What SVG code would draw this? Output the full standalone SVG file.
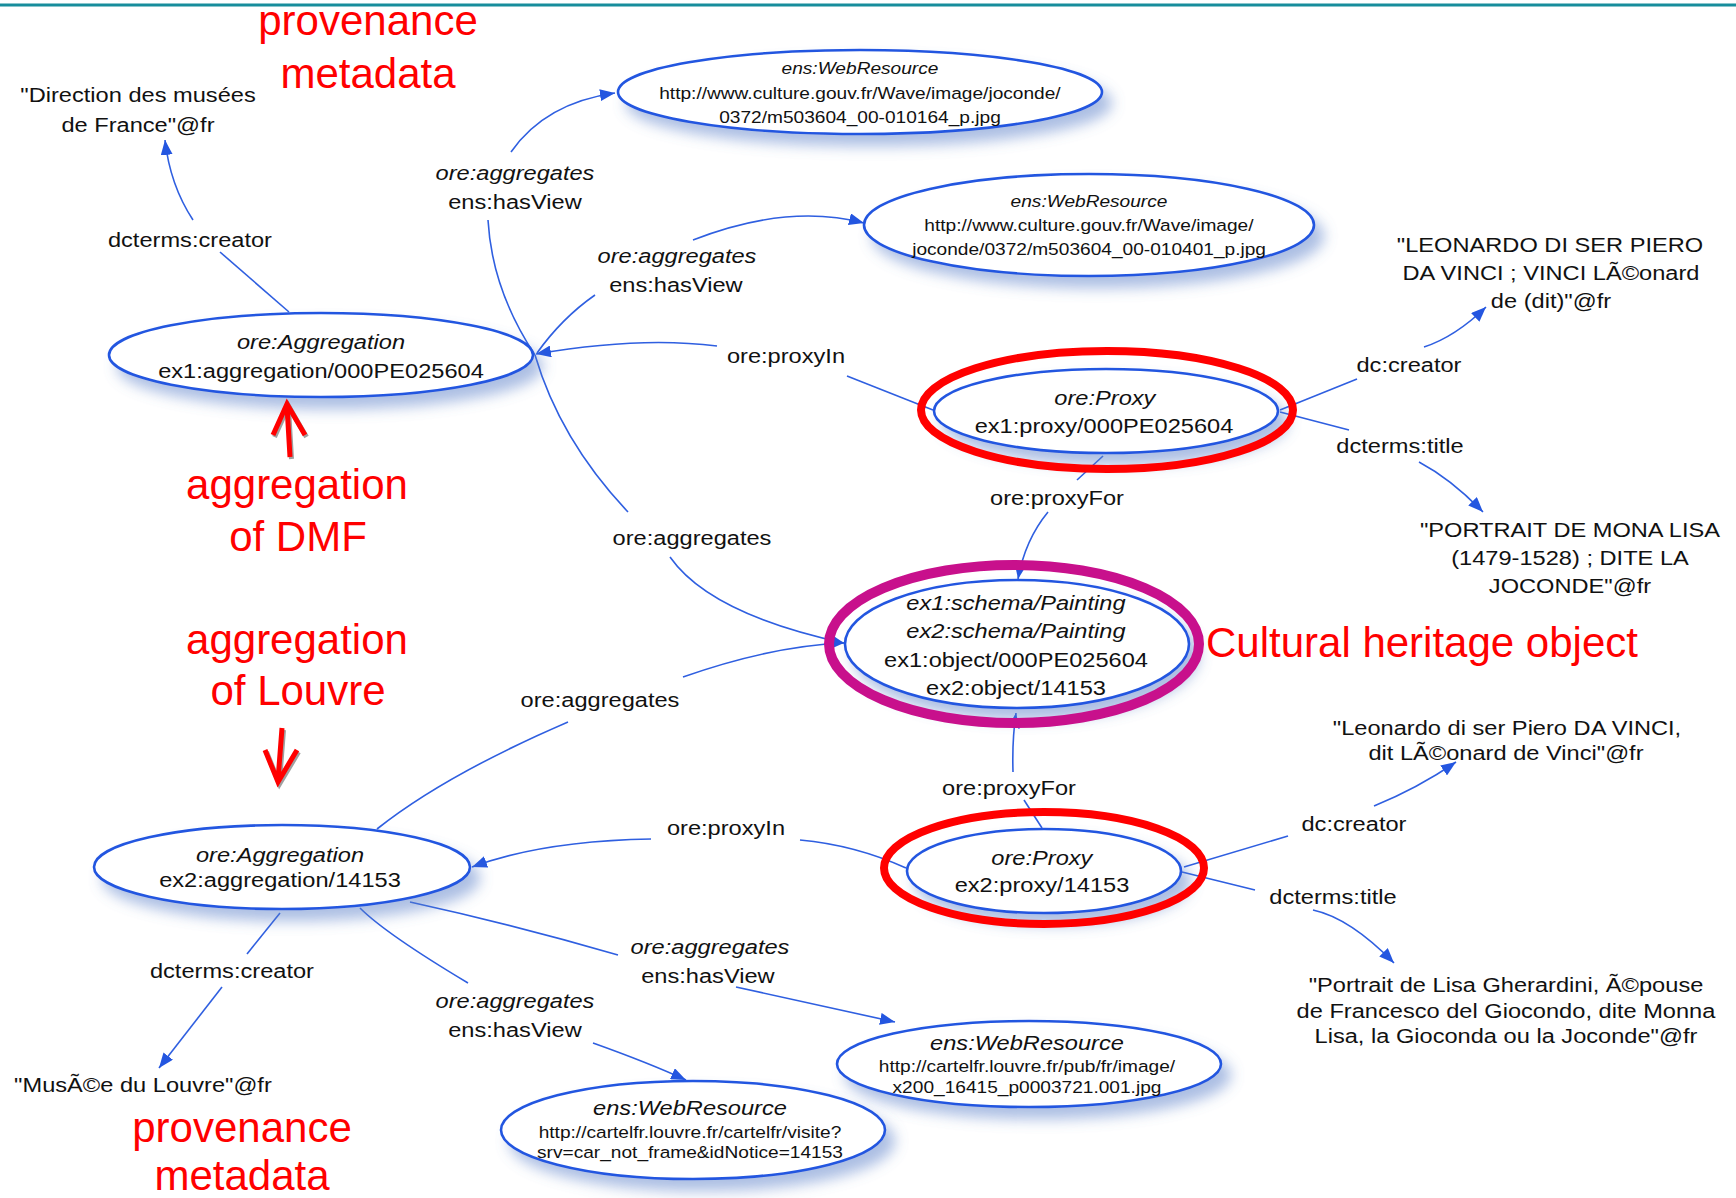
<svg xmlns="http://www.w3.org/2000/svg" width="1736" height="1198" viewBox="0 0 1736 1198">
<style>
text { font-family: "Liberation Sans", Arial, Helvetica, sans-serif; fill: #111; }
.t { font-size: 21px; text-anchor: middle; transform-box: fill-box; transform-origin: center; transform: scaleX(1.125); }
.s { font-size: 17px; text-anchor: middle; transform-box: fill-box; transform-origin: center; transform: scaleX(1.125); }
.i { font-style: italic; }
.node { fill: #fff; stroke: #2456e0; stroke-width: 2.6; filter: url(#sh); }
.edge { fill: none; stroke: #2f5fe0; stroke-width: 1.6; }
.arr { marker-end: url(#ah); }
.red { font-size: 42px; fill: #ff0000; text-anchor: middle; }
.hl { fill: none; stroke: #ff0000; stroke-width: 8; }
.ra { fill: none; stroke: #ff0000; stroke-width: 5; stroke-linecap: butt; stroke-linejoin: miter; }
.rs { fill: none; stroke: #777; stroke-width: 5; opacity: 0.7; }
</style>
<defs>
<filter id="sh" x="-20%" y="-40%" width="150%" height="190%">
<feGaussianBlur in="SourceAlpha" stdDeviation="7"/>
<feOffset dx="9" dy="11" result="b"/>
<feFlood flood-color="#5a7fc8" flood-opacity="0.5"/>
<feComposite in2="b" operator="in"/>
<feMerge><feMergeNode/><feMergeNode in="SourceGraphic"/></feMerge>
</filter>
<marker id="ah" viewBox="0 0 15 12" refX="15" refY="6" markerWidth="15" markerHeight="12" markerUnits="userSpaceOnUse" orient="auto">
<path d="M0,0 L15,6 L0,12 z" fill="#2456e0"/>
</marker>
</defs>
<rect x="0" y="0" width="1736" height="1198" fill="#ffffff"/>
<line x1="0" y1="5" x2="1736" y2="5" stroke="#178d9c" stroke-width="3"/>

<g id="connectors">
<!-- A1 -> Direction des musées -->
<path class="edge" d="M289,312 L220,252"/>
<path class="edge arr" d="M193,220 Q170,185 165,140"/>
<text class="t" x="190" y="247">dcterms:creator</text>
<!-- A1 -> WR1 -->
<path class="edge" d="M535,355 Q492,290 488,220"/>
<path class="edge arr" d="M511,152 Q545,103 615,93"/>
<text class="t i" x="515" y="180">ore:aggregates</text>
<text class="t" x="515" y="209">ens:hasView</text>
<!-- A1 -> WR2 -->
<path class="edge" d="M537,353 Q562,318 595,295"/>
<path class="edge arr" d="M693,240 Q788,203 864,223"/>
<text class="t i" x="677" y="263">ore:aggregates</text>
<text class="t" x="676" y="292">ens:hasView</text>
<!-- Proxy1 -> A1 -->
<path class="edge" d="M933,410 L847,376"/>
<path class="edge arr" d="M717,346 Q640,336 536,354"/>
<text class="t" x="786" y="363">ore:proxyIn</text>
<!-- A1 -> CHO -->
<path class="edge" d="M535,355 Q560,440 628,512"/>
<path class="edge arr" d="M670,557 Q710,614 844,643"/>
<text class="t" x="692" y="545">ore:aggregates</text>
<!-- Proxy1 -> CHO -->
<path class="edge" d="M1103,456 L1077,480"/>
<path class="edge arr" d="M1048,512 Q1025,540 1018,579"/>
<text class="t" x="1057" y="505">ore:proxyFor</text>
<!-- Proxy1 -> LEONARDO -->
<path class="edge" d="M1280,410 L1357,379"/>
<path class="edge arr" d="M1424,347 Q1455,337 1486,307"/>
<text class="t" x="1409" y="372">dc:creator</text>
<!-- Proxy1 -> PORTRAIT -->
<path class="edge" d="M1280,412 L1349,430"/>
<path class="edge arr" d="M1419,462 Q1451,479 1483,512"/>
<text class="t" x="1400" y="453">dcterms:title</text>
<!-- A2 -> CHO -->
<path class="edge" d="M377,829 Q445,775 568,722"/>
<path class="edge arr" d="M683,677 Q771,646 844,643"/>
<text class="t" x="600" y="707">ore:aggregates</text>
<!-- Proxy2 -> CHO -->
<path class="edge arr" d="M1013,772 Q1012,740 1016,713"/>
<path class="edge" d="M1024,800 L1042,828"/>
<text class="t" x="1009" y="795">ore:proxyFor</text>
<!-- Proxy2 -> A2 -->
<path class="edge" d="M906,868 Q855,845 800,840"/>
<path class="edge arr" d="M651,839 Q542,841 472,867"/>
<text class="t" x="726" y="835">ore:proxyIn</text>
<!-- Proxy2 -> Leonardo -->
<path class="edge" d="M1184,867 L1288,836"/>
<path class="edge arr" d="M1374,806 Q1418,788 1456,762"/>
<text class="t" x="1354" y="831">dc:creator</text>
<!-- Proxy2 -> Portrait de Lisa -->
<path class="edge" d="M1182,872 L1255,890"/>
<path class="edge arr" d="M1313,910 Q1350,918 1394,963"/>
<text class="t" x="1333" y="904">dcterms:title</text>
<!-- A2 -> Musée du Louvre -->
<path class="edge" d="M280,913 L247,954"/>
<path class="edge arr" d="M222,987 L159,1068"/>
<text class="t" x="232" y="978">dcterms:creator</text>
<!-- A2 -> WR4 -->
<path class="edge" d="M360,908 Q386,934 468,983"/>
<path class="edge arr" d="M593,1043 Q649,1063 686,1080"/>
<text class="t i" x="515" y="1008">ore:aggregates</text>
<text class="t" x="515" y="1037">ens:hasView</text>
<!-- A2 -> WR3 -->
<path class="edge" d="M410,902 Q515,925 618,955"/>
<path class="edge arr" d="M736,987 L895,1022"/>
<text class="t i" x="710" y="954">ore:aggregates</text>
<text class="t" x="708" y="983">ens:hasView</text>
</g>

<g id="n-direction">
<text class="t" x="138" y="102">"Direction des musées</text>
<text class="t" x="138" y="132">de France"@fr</text>
</g>

<g id="n-aggregation1">
<ellipse class="node" cx="321" cy="355" rx="212" ry="42"/>
<text class="t i" x="321" y="349">ore:Aggregation</text>
<text class="t" x="321" y="378">ex1:aggregation/000PE025604</text>
</g>

<g id="n-webresource1">
<ellipse class="node" cx="860" cy="92" rx="242" ry="42"/>
<text class="s i" x="860" y="74">ens:WebResource</text>
<text class="s" x="860" y="99">http://www.culture.gouv.fr/Wave/image/joconde/</text>
<text class="s" x="860" y="123">0372/m503604_00-010164_p.jpg</text>
</g>

<g id="n-webresource2">
<ellipse class="node" cx="1089" cy="225" rx="225" ry="51"/>
<text class="s i" x="1089" y="207">ens:WebResource</text>
<text class="s" x="1089" y="231">http://www.culture.gouv.fr/Wave/image/</text>
<text class="s" x="1089" y="255">joconde/0372/m503604_00-010401_p.jpg</text>
</g>

<g id="n-proxy1">
<ellipse class="node" cx="1106" cy="411" rx="172" ry="42"/>
<text class="t i" x="1105" y="405">ore:Proxy</text>
<text class="t" x="1104" y="433">ex1:proxy/000PE025604</text>
</g>

<g id="n-leonardo-upper">
<text class="t" x="1550" y="252">"LEONARDO DI SER PIERO</text>
<text class="t" x="1551" y="280">DA VINCI ; VINCI LÃ©onard</text>
<text class="t" x="1551" y="308">de (dit)"@fr</text>
</g>

<g id="n-portrait-upper">
<text class="t" x="1570" y="537">"PORTRAIT DE MONA LISA</text>
<text class="t" x="1570" y="565">(1479-1528) ; DITE LA</text>
<text class="t" x="1570" y="593">JOCONDE"@fr</text>
</g>

<g id="n-cho">
<ellipse class="node" cx="1017" cy="644" rx="172" ry="64"/>
<text class="t i" x="1016" y="610">ex1:schema/Painting</text>
<text class="t i" x="1016" y="638">ex2:schema/Painting</text>
<text class="t" x="1016" y="667">ex1:object/000PE025604</text>
<text class="t" x="1016" y="695">ex2:object/14153</text>
</g>

<g id="n-proxy2">
<ellipse class="node" cx="1044" cy="871" rx="137" ry="42"/>
<text class="t i" x="1042" y="865">ore:Proxy</text>
<text class="t" x="1042" y="892">ex2:proxy/14153</text>
</g>

<g id="n-leonardo-lower">
<text class="t" x="1507" y="735">"Leonardo di ser Piero DA VINCI,</text>
<text class="t" x="1506" y="760">dit LÃ©onard de Vinci"@fr</text>
</g>

<g id="n-portrait-lower">
<text class="t" x="1506" y="992">"Portrait de Lisa Gherardini, Ã©pouse</text>
<text class="t" x="1506" y="1018">de Francesco del Giocondo, dite Monna</text>
<text class="t" x="1506" y="1043">Lisa, la Gioconda ou la Joconde"@fr</text>
</g>

<g id="n-aggregation2">
<ellipse class="node" cx="282" cy="867" rx="188" ry="42"/>
<text class="t i" x="280" y="862">ore:Aggregation</text>
<text class="t" x="280" y="887">ex2:aggregation/14153</text>
</g>

<g id="n-musee">
<text class="t" x="143" y="1092">"MusÃ©e du Louvre"@fr</text>
</g>

<g id="n-webresource3">
<ellipse class="node" cx="1029" cy="1064" rx="192" ry="43"/>
<text class="t i" x="1027" y="1050">ens:WebResource</text>
<text class="s" x="1027" y="1072">http://cartelfr.louvre.fr/pub/fr/image/</text>
<text class="s" x="1027" y="1093">x200_16415_p0003721.001.jpg</text>
</g>

<g id="n-webresource4">
<ellipse class="node" cx="693" cy="1130" rx="192" ry="49"/>
<text class="t i" x="690" y="1115">ens:WebResource</text>
<text class="s" x="690" y="1138">http://cartelfr.louvre.fr/cartelfr/visite?</text>
<text class="s" x="690" y="1158">srv=car_not_frame&amp;idNotice=14153</text>
</g>

<g id="annotations">
<ellipse class="hl" cx="1107" cy="410" rx="186" ry="59"/>
<ellipse class="hl" cx="1044" cy="868" rx="160" ry="56"/>
<ellipse cx="1014" cy="644" rx="185" ry="79" fill="none" stroke="#c8108c" stroke-width="10"/>
<text class="red" x="368" y="35">provenance</text>
<text class="red" x="368" y="88">metadata</text>
<text class="red" x="297" y="499">aggregation</text>
<text class="red" x="298" y="551">of DMF</text>
<text class="red" x="297" y="654">aggregation</text>
<text class="red" x="298" y="705">of Louvre</text>
<text class="red" x="1206" y="657" style="text-anchor:start">Cultural heritage object</text>
<text class="red" x="242" y="1142">provenance</text>
<text class="red" x="242" y="1190">metadata</text>
<g transform="translate(1.5,2)">
<path class="rs" d="M290,457 L287,406 M273,435 L287,404 L305,435"/>
<path class="rs" d="M282,728 L278,780 M265,750 L278,782 L297,750"/>
</g>
<path class="ra" d="M290,457 L287,406 M273,435 L287,404 L305,435"/>
<path class="ra" d="M282,728 L278,780 M265,750 L278,782 L297,750"/>
</g>
</svg>
